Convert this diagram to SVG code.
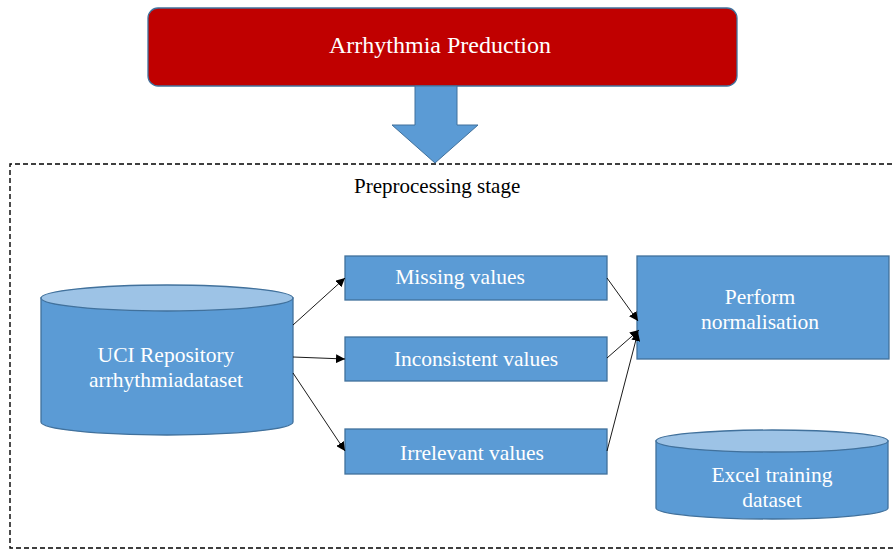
<svg xmlns="http://www.w3.org/2000/svg" width="894" height="550" viewBox="0 0 894 550">
  <style>
    .box { fill: #5B9BD5; stroke: #41719C; stroke-width: 1.3; }
    .top { fill: #9DC3E6; stroke: #41719C; stroke-width: 1.3; }
    .lbl { font-family: "Liberation Serif", "Times New Roman", serif; font-size: 21.5px; fill: #FFFFFF; text-anchor: middle; }
    .cap { font-family: "Liberation Serif", "Times New Roman", serif; font-size: 21px; fill: #000000; }
    .link { stroke: #000000; stroke-width: 0.9; fill: none; marker-end: url(#head); }
  </style>
  <defs>
    <marker id="head" viewBox="0 0 10 10" refX="10" refY="5" markerWidth="9" markerHeight="9" markerUnits="userSpaceOnUse" orient="auto">
      <path d="M0,0 L10,5 L0,10 Z" fill="#000000"/>
    </marker>
  </defs>

  <rect width="894" height="550" fill="#FFFFFF"/>

  <!-- stage frame -->
  <g id="stage">
    <path d="M900,164 L10,164 L10,548 L900,548" fill="none" stroke="#000000" stroke-width="1.4" stroke-dasharray="5,3"/>
    <text class="cap" x="354" y="193">Preprocessing stage</text>
  </g>

  <!-- title -->
  <g id="title">
    <rect x="148" y="8" width="589" height="78" rx="10" fill="#C00000" stroke="#41719C" stroke-width="1.3"/>
    <text class="lbl" x="440" y="53" style="font-size:24px">Arrhythmia Preduction</text>
  </g>

  <!-- block arrow down into the stage -->
  <g id="down-arrow">
    <path d="M415,86 L457,86 L457,125 L478,125 L435,163 L392,125 L415,125 Z" fill="#5B9BD5" stroke="#41719C" stroke-width="1"/>
  </g>

  <!-- source repository -->
  <g id="uci">
    <path class="box" d="M41,298 L41,422 A126,13 0 0 0 293,422 L293,298 Z"/>
    <ellipse class="top" cx="167" cy="298" rx="126" ry="13"/>
    <text class="lbl" x="166" y="362">UCI Repository</text>
    <text class="lbl" x="166" y="387">arrhythmiadataset</text>
  </g>

  <g id="missing">
    <rect class="box" x="345" y="256" width="262" height="44"/>
    <text class="lbl" x="460" y="284">Missing values</text>
  </g>

  <g id="inconsistent">
    <rect class="box" x="345" y="337" width="262" height="44"/>
    <text class="lbl" x="476" y="366">Inconsistent values</text>
  </g>

  <g id="irrelevant">
    <rect class="box" x="345" y="429" width="262" height="45"/>
    <text class="lbl" x="472" y="460">Irrelevant values</text>
  </g>

  <g id="normalise">
    <rect class="box" x="637" y="256" width="252" height="103"/>
    <text class="lbl" x="760" y="304">Perform</text>
    <text class="lbl" x="760" y="329">normalisation</text>
  </g>

  <!-- output dataset -->
  <g id="excel">
    <path class="box" d="M656,441 L656,508 A116,11 0 0 0 888,508 L888,441 Z"/>
    <ellipse class="top" cx="772" cy="441" rx="116" ry="11"/>
    <text class="lbl" x="772" y="482">Excel training</text>
    <text class="lbl" x="772" y="507">dataset</text>
  </g>

  <!-- connectors -->
  <g id="connectors">
    <line class="link" x1="293" y1="325" x2="345" y2="278"/>
    <line class="link" x1="293" y1="357" x2="345" y2="359"/>
    <line class="link" x1="293" y1="373" x2="345" y2="451"/>
    <line class="link" x1="607" y1="278" x2="638" y2="321"/>
    <line class="link" x1="607" y1="358" x2="639" y2="330"/>
    <line class="link" x1="607" y1="451" x2="638" y2="332"/>
  </g>
</svg>
